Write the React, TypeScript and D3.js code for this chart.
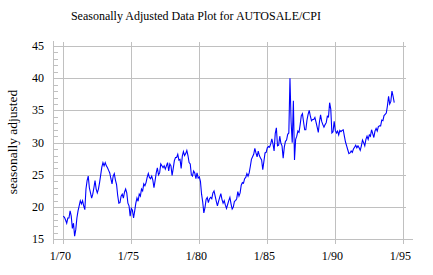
import React from "react";
import * as d3 from "d3";

const TITLE = "Seasonally Adjusted Data Plot for AUTOSALE/CPI";
const Y_LABEL = "seasonally adjusted";
const START_YEAR = 1970;

const values1970s: number[] = [
  18.6, 18.4, 18.0, 17.5, 18.3, 18.3, 19.4, 18.6, 16.7, 17.5, 15.5, 16.5,
  18.3, 19.4, 20.2, 21.0, 20.5, 21.0, 20.2, 19.6, 22.8, 24.1, 24.8, 23.0,
  22.2, 21.4, 22.0, 23.0, 24.1, 22.8, 22.2, 22.8, 23.8, 25.0, 26.2, 26.9,
  26.4, 26.9, 26.4, 26.1, 25.7, 25.3, 24.4, 23.6, 24.8, 25.2, 24.2, 23.5,
  21.8, 20.6, 20.7, 21.7, 22.0, 21.4, 22.3, 22.8, 22.2, 20.6, 20.2, 18.6,
  19.8, 19.5, 18.3, 19.4, 20.6, 21.4, 20.9, 22.0, 21.7, 22.8, 22.5, 23.6,
  23.3, 23.8, 24.6, 25.2, 24.6, 24.4, 24.8, 24.2, 23.0, 24.1, 25.3, 26.1,
  25.0, 25.3, 26.7, 26.4, 26.1, 26.4, 25.9, 26.4, 26.9, 25.6, 26.7, 26.4,
  24.9, 26.0, 27.2, 27.7, 27.7, 28.2, 27.3, 27.4, 26.0, 27.9, 28.6, 28.0,
  28.3, 28.8, 28.0, 26.9, 26.7, 25.0, 24.8, 25.6, 25.3, 24.4, 25.3, 24.5,
];
const values1980s: number[] = [
  24.7, 24.0, 22.0, 20.8, 19.1, 19.9, 21.2, 21.5, 20.7, 21.3, 21.5, 21.3,
  22.2, 22.5, 21.7, 20.9, 20.2, 20.9, 21.5, 22.1, 21.2, 20.6, 21.0, 20.3,
  19.8, 20.4, 21.0, 21.5, 20.5, 19.7, 20.0, 20.9, 21.0, 21.3, 22.4, 21.7,
  22.2, 23.4, 23.8, 23.7, 24.4, 24.6, 25.2, 24.8, 25.3, 26.3, 27.4, 27.8,
  28.2, 29.1, 28.4, 27.8, 28.7, 28.0, 27.6, 27.3, 25.8, 27.1, 28.4, 28.5,
  29.2, 29.4, 29.3, 29.8, 30.6, 29.8, 28.7, 31.4, 32.3, 29.5, 29.6, 31.0,
  29.9, 29.5, 27.6, 29.3, 30.2, 30.4, 31.3, 31.5, 40.0, 33.2, 30.0, 36.5,
  27.3, 30.5, 31.0, 31.8, 31.6, 32.8, 34.2, 34.5, 33.2, 32.0, 32.0, 33.5,
  34.4, 35.0, 34.1, 33.4, 33.6, 33.6, 33.9, 33.2, 32.4, 31.6, 33.2, 34.3,
  33.3, 32.8, 32.4, 32.8, 33.1, 34.1, 34.0, 36.2, 35.2, 31.5, 31.7, 33.3,
];
const values1990s: number[] = [
  31.9, 31.5, 31.8, 31.2, 31.9, 31.7, 31.9, 32.0, 31.0, 30.1, 29.5, 28.9,
  28.3, 28.4, 28.7, 28.5, 29.0, 29.3, 29.6, 29.2, 29.5, 29.2, 28.8, 29.5,
  30.4, 30.0, 29.5, 30.5, 31.0, 30.5, 31.2, 31.0, 32.0, 31.4, 30.8, 31.8,
  32.2, 31.8, 32.5, 32.6, 32.6, 33.5, 33.4, 34.2, 34.4, 34.6, 35.7, 37.2,
  36.0, 36.4, 38.0, 37.2, 36.2,
];

const xTickYears = [1970, 1975, 1980, 1985, 1990, 1995];
const xTickLabels = ["1/70", "1/75", "1/80", "1/85", "1/90", "1/95"];
const yTicks = [15, 20, 25, 30, 35, 40, 45];

export default function App() {
  const W = 433;
  const H = 275;
  const values = [...values1970s, ...values1980s, ...values1990s];
  const data = values.map((v, i) => ({ t: START_YEAR + i / 12, v }));

  const x = d3.scaleLinear().domain([1970, 1995]).range([63.3, 403.3]);
  const y = d3.scaleLinear().domain([15, 45]).range([239.3, 46]);
  const axisLeft = 53.5;
  const gridRight = 406;
  const axisRight = 413;
  const grey = "#c0c0c0";
  const font = "'Liberation Serif', 'Times New Roman', serif";

  const line = d3
    .line<{ t: number; v: number }>()
    .x((d) => x(d.t))
    .y((d) => y(d.v));

  const minor = d3.range(15, 46, 1).filter((v) => v % 5 !== 0);

  return (
    <svg
      width={W}
      height={H}
      style={{ position: "absolute", left: 0, top: 0, background: "#fff" }}
    >
      <rect x={0} y={0} width={W} height={H} fill="#fff" />
      <text x={196} y={20} textAnchor="middle" fontFamily={font} fontSize={12} fill="#000">
        {TITLE}
      </text>
      {/* horizontal gridlines */}
      {yTicks.map((v) => (
        <line
          key={"hy" + v}
          x1={axisLeft}
          x2={v === 15 ? axisRight : gridRight}
          y1={Math.round(y(v)) + 0.5}
          y2={Math.round(y(v)) + 0.5}
          stroke={grey}
          strokeWidth={1}
          shapeRendering="crispEdges"
        />
      ))}
      {minor.map((v) => (
        <line
          key={"my" + v}
          x1={axisLeft}
          x2={axisLeft + 4}
          y1={Math.round(y(v)) + 0.5}
          y2={Math.round(y(v)) + 0.5}
          stroke={grey}
          strokeWidth={1}
          shapeRendering="crispEdges"
        />
      ))}
      {/* vertical gridlines */}
      {xTickYears.map((t) => (
        <line
          key={"vx" + t}
          x1={Math.round(x(t)) + 0.5}
          x2={Math.round(x(t)) + 0.5}
          y1={42}
          y2={244}
          stroke={grey}
          strokeWidth={1}
          shapeRendering="crispEdges"
        />
      ))}
      <line
        x1={axisLeft}
        x2={axisLeft}
        y1={41}
        y2={244}
        stroke={grey}
        strokeWidth={1}
        shapeRendering="crispEdges"
      />
      {/* y tick labels */}
      {yTicks.map((v) => (
        <text
          key={"ly" + v}
          x={44}
          y={y(v) + 4}
          textAnchor="end"
          fontFamily={font}
          fontSize={12}
          fill="#000"
        >
          {v}
        </text>
      ))}
      {/* x tick labels */}
      {xTickYears.map((t, i) => (
        <text
          key={"lx" + t}
          x={x(t) - 3}
          y={260}
          textAnchor="middle"
          fontFamily={font}
          fontSize={12}
          fill="#000"
        >
          {xTickLabels[i]}
        </text>
      ))}
      <text
        transform={`translate(17,142) rotate(-90)`}
        textAnchor="middle"
        fontFamily={font}
        fontSize={13.5}
        fill="#000"
      >
        {Y_LABEL}
      </text>
      <path d={line(data) || ""} fill="none" stroke="#0000ff" strokeWidth={1.1} />
    </svg>
  );
}
